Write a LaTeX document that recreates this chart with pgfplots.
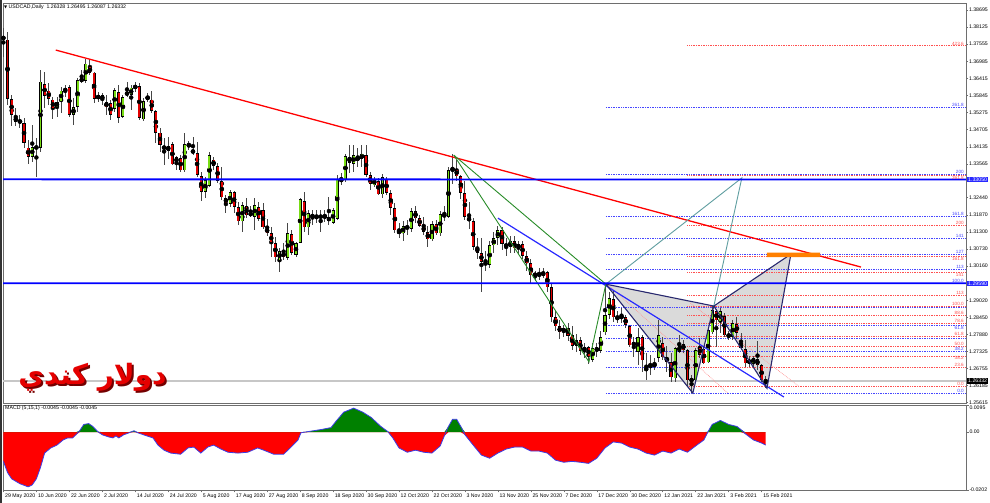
\documentclass[border=0pt]{standalone}
\usepackage{pgfplots}
\pgfplotsset{compat=1.18}
\usepackage{pgfplotstable}
\usepackage{fontspec}
\setmainfont{Liberation Sans}
\newfontfamily\arabicfont[Script=Arabic]{DejaVu Sans}
\newfontfamily\djv{DejaVu Sans}
\TeXXeTstate=1
\newcommand\mtfont{\fontsize{5.2}{6}\selectfont}
\definecolor{bull}{RGB}{120,220,20}
\definecolor{bear}{RGB}{225,0,0}
\definecolor{wick}{RGB}{70,70,70}
\definecolor{fibblue}{RGB}{70,70,255}
\definecolor{fibred}{RGB}{255,80,80}
\definecolor{hblue}{RGB}{40,40,255}
\definecolor{patedge}{RGB}{40,40,110}
\definecolor{patfill}{RGB}{218,218,218}
\definecolor{tealline}{RGB}{95,158,160}
\definecolor{gline}{RGB}{40,140,40}
\definecolor{macdgreen}{RGB}{0,128,0}
\definecolor{macdred}{RGB}{255,0,0}
\definecolor{macdline}{RGB}{60,60,230}
\definecolor{frame}{RGB}{110,110,110}

\pgfplotstableread{
i o h l c
0 1.3783 1.3810 1.3713 1.3770
1 1.3770 1.3796 1.3553 1.3573
2 1.3573 1.3586 1.3483 1.3520
3 1.3513 1.3543 1.3483 1.3496
4 1.3500 1.3520 1.3476 1.3496
5 1.3493 1.3510 1.3410 1.3426
6 1.3410 1.3436 1.3356 1.3380
7 1.3380 1.3486 1.3363 1.3413
8 1.3413 1.3443 1.3313 1.3410
9 1.3410 1.3670 1.3396 1.3630
10 1.3623 1.3663 1.3543 1.3583
11 1.3600 1.3626 1.3553 1.3573
12 1.3570 1.3580 1.3506 1.3540
13 1.3546 1.3580 1.3513 1.3563
14 1.3566 1.3613 1.3526 1.3600
15 1.3600 1.3620 1.3580 1.3606
16 1.3613 1.3620 1.3513 1.3520
17 1.3520 1.3576 1.3486 1.3546
18 1.3546 1.3643 1.3530 1.3636
19 1.3633 1.3670 1.3626 1.3640
20 1.3633 1.3706 1.3626 1.3690
21 1.3680 1.3706 1.3653 1.3660
22 1.3660 1.3663 1.3560 1.3573
23 1.3573 1.3596 1.3563 1.3586
24 1.3586 1.3593 1.3553 1.3570
25 1.3563 1.3586 1.3520 1.3546
26 1.3560 1.3570 1.3503 1.3520
27 1.3540 1.3610 1.3530 1.3603
28 1.3596 1.3620 1.3493 1.3510
29 1.3513 1.3586 1.3510 1.3580
30 1.3586 1.3630 1.3580 1.3596
31 1.3586 1.3620 1.3536 1.3610
32 1.3610 1.3630 1.3596 1.3616
33 1.3616 1.3626 1.3503 1.3510
34 1.3506 1.3576 1.3500 1.3566
35 1.3570 1.3593 1.3563 1.3583
36 1.3570 1.3600 1.3526 1.3533
37 1.3533 1.3536 1.3426 1.3460
38 1.3460 1.3476 1.3396 1.3420
39 1.3416 1.3443 1.3353 1.3406
40 1.3400 1.3446 1.3373 1.3416
41 1.3423 1.3430 1.3353 1.3356
42 1.3360 1.3383 1.3336 1.3380
43 1.3376 1.3386 1.3330 1.3336
44 1.3336 1.3460 1.3330 1.3423
45 1.3423 1.3433 1.3403 1.3416
46 1.3403 1.3446 1.3386 1.3393
47 1.3393 1.3430 1.3313 1.3320
48 1.3316 1.3330 1.3233 1.3263
49 1.3263 1.3313 1.3243 1.3303
50 1.3283 1.3396 1.3280 1.3386
51 1.3370 1.3380 1.3336 1.3350
52 1.3350 1.3360 1.3293 1.3300
53 1.3300 1.3346 1.3236 1.3246
54 1.3243 1.3253 1.3193 1.3226
55 1.3223 1.3270 1.3213 1.3263
56 1.3263 1.3266 1.3193 1.3213
57 1.3213 1.3230 1.3153 1.3166
58 1.3166 1.3230 1.3130 1.3220
59 1.3216 1.3243 1.3176 1.3186
60 1.3193 1.3216 1.3180 1.3186
61 1.3180 1.3243 1.3136 1.3220
62 1.3213 1.3230 1.3166 1.3173
63 1.3203 1.3226 1.3140 1.3146
64 1.3143 1.3173 1.3116 1.3126
65 1.3126 1.3146 1.3046 1.3093
66 1.3093 1.3113 1.3030 1.3046
67 1.3036 1.3076 1.2996 1.3066
68 1.3063 1.3093 1.3036 1.3046
69 1.3043 1.3160 1.3036 1.3126
70 1.3123 1.3136 1.3053 1.3060
71 1.3053 1.3096 1.3046 1.3093
72 1.3093 1.3243 1.3093 1.3240
73 1.3233 1.3263 1.3130 1.3146
74 1.3146 1.3203 1.3120 1.3193
75 1.3186 1.3203 1.3153 1.3180
76 1.3183 1.3203 1.3160 1.3176
77 1.3176 1.3203 1.3130 1.3186
78 1.3186 1.3203 1.3163 1.3176
79 1.3180 1.3246 1.3153 1.3166
80 1.3160 1.3210 1.3156 1.3203
81 1.3173 1.3320 1.3170 1.3306
82 1.3306 1.3326 1.3286 1.3300
83 1.3303 1.3390 1.3296 1.3383
84 1.3380 1.3420 1.3326 1.3360
85 1.3356 1.3420 1.3330 1.3386
86 1.3383 1.3410 1.3346 1.3366
87 1.3373 1.3420 1.3346 1.3390
88 1.3386 1.3420 1.3313 1.3320
89 1.3320 1.3330 1.3270 1.3290
90 1.3286 1.3313 1.3280 1.3306
91 1.3300 1.3310 1.3253 1.3256
92 1.3256 1.3323 1.3243 1.3313
93 1.3306 1.3313 1.3253 1.3260
94 1.3260 1.3270 1.3186 1.3210
95 1.3210 1.3225 1.3125 1.3135
96 1.3135 1.3160 1.3110 1.3125
97 1.3125 1.3165 1.3100 1.3150
98 1.3150 1.3170 1.3120 1.3140
99 1.3140 1.3210 1.3130 1.3200
100 1.3200 1.3215 1.3160 1.3175
101 1.3175 1.3185 1.3145 1.3150
102 1.3150 1.3180 1.3120 1.3130
103 1.3130 1.3150 1.3080 1.3105
104 1.3105 1.3165 1.3100 1.3155
105 1.3155 1.3170 1.3120 1.3125
106 1.3125 1.3200 1.3115 1.3190
107 1.3190 1.3215 1.3165 1.3180
108 1.3180 1.3345 1.3175 1.3335
109 1.3335 1.3390 1.3290 1.3340
110 1.3340 1.3370 1.3300 1.3315
111 1.3315 1.3320 1.3240 1.3260
112 1.3260 1.3300 1.3170 1.3180
113 1.3180 1.3230 1.3140 1.3165
114 1.3165 1.3175 1.3070 1.3080
115 1.3080 1.3110 1.3040 1.3060
116 1.3060 1.3110 1.2930 1.3030
117 1.3030 1.3065 1.3000 1.3020
118 1.3020 1.3100 1.3010 1.3085
119 1.3085 1.3130 1.3060 1.3110
120 1.3110 1.3150 1.3085 1.3135
121 1.3135 1.3145 1.3070 1.3090
122 1.3090 1.3110 1.3050 1.3080
123 1.3080 1.3115 1.3060 1.3100
124 1.3100 1.3115 1.3060 1.3075
125 1.3075 1.3100 1.3055 1.3090
126 1.3090 1.3100 1.3040 1.3050
127 1.3050 1.3065 1.3000 1.3025
128 1.3025 1.3040 1.2960 1.2985
129 1.2985 1.3000 1.2965 1.2990
130 1.2990 1.3010 1.2970 1.2985
131 1.2985 1.3010 1.2975 1.2995
132 1.2995 1.3000 1.2930 1.2945
133 1.2945 1.2960 1.2830 1.2845
134 1.2845 1.2870 1.2800 1.2815
135 1.2815 1.2835 1.2775 1.2795
136 1.2795 1.2820 1.2780 1.2810
137 1.2810 1.2825 1.2765 1.2785
138 1.2785 1.2815 1.2735 1.2750
139 1.2750 1.2790 1.2730 1.2770
140 1.2770 1.2780 1.2720 1.2735
141 1.2735 1.2760 1.2710 1.2745
142 1.2745 1.2750 1.2690 1.2715
143 1.2703 1.2760 1.2696 1.2743
144 1.2743 1.2760 1.2715 1.2735
145 1.2735 1.2800 1.2725 1.2780
146 1.2796 1.2953 1.2786 1.2853
147 1.2853 1.2930 1.2840 1.2910
148 1.2906 1.2936 1.2830 1.2846
149 1.2846 1.2866 1.2825 1.2840
150 1.2850 1.2876 1.2826 1.2843
151 1.2846 1.2853 1.2810 1.2820
152 1.2816 1.2820 1.2746 1.2753
153 1.2750 1.2780 1.2713 1.2763
154 1.2730 1.2810 1.2686 1.2780
155 1.2780 1.2786 1.2663 1.2703
156 1.2666 1.2726 1.2636 1.2680
157 1.2676 1.2720 1.2653 1.2690
158 1.2693 1.2710 1.2670 1.2680
159 1.2710 1.2836 1.2696 1.2786
160 1.2760 1.2780 1.2703 1.2713
161 1.2713 1.2750 1.2663 1.2696
162 1.2696 1.2726 1.2630 1.2646
163 1.2643 1.2746 1.2630 1.2743
164 1.2730 1.2786 1.2726 1.2750
165 1.2756 1.2770 1.2726 1.2736
166 1.2736 1.2740 1.2613 1.2636
167 1.2630 1.2653 1.2593 1.2643
168 1.2636 1.2743 1.2630 1.2736
169 1.2746 1.2776 1.2710 1.2720
170 1.2740 1.2746 1.2690 1.2693
171 1.2696 1.2810 1.2693 1.2803
172 1.2796 1.2883 1.2790 1.2870
173 1.2866 1.2873 1.2746 1.2836
174 1.2830 1.2876 1.2793 1.2866
175 1.2850 1.2860 1.2780 1.2786
176 1.2786 1.2800 1.2770 1.2783
177 1.2780 1.2836 1.2770 1.2826
178 1.2823 1.2846 1.2773 1.2793
179 1.2760 1.2793 1.2736 1.2743
180 1.2740 1.2770 1.2680 1.2693
181 1.2693 1.2716 1.2680 1.2703
182 1.2693 1.2716 1.2676 1.2710
183 1.2706 1.2766 1.2670 1.2686
184 1.2686 1.2690 1.2630 1.2636
185 1.26328 1.26495 1.26087 1.26332
}\candles

\pgfplotstableread{
i v
0 -0.0102
1 -0.0141
2 -0.0163
4 -0.0180
6 -0.0191
7 -0.0184
8 -0.0163
9 -0.0123
10 -0.0073
11.5 -0.0055
13 -0.0045
14.5 -0.0027
15.6 -0.0020
16.8 -0.0020
17.6 -0.0009
18.5 0.0005
19.5 0.0027
20.7 0.0030
21.7 0.0020
22.9 0.0002
24 -0.0009
25.4 -0.0016
26.6 -0.0020
27.3 -0.0013
28 -0.0020
29.2 -0.0009
30.5 -0.0002
31.7 0.0005
32.6 -0.0002
34 -0.0009
36.3 -0.0020
37.5 -0.0045
39 -0.0063
40.6 -0.0073
43 -0.0077
44.8 -0.0055
46.2 -0.0052
47.9 -0.0073
49.6 -0.0052
51 -0.0045
52.8 -0.0059
54.5 -0.0070
56.9 -0.0073
59.3 -0.0070
61.7 -0.0055
63.2 -0.0063
65.6 -0.0077
68 -0.0077
69.8 -0.0052
71.5 -0.0027
72.2 -0.0002
73.9 0.0002
77 0.0009
79.5 0.0016
80.7 0.0038
82.6 0.0070
85 0.0084
87.2 0.0070
89.2 0.0052
91.6 0.0020
93.3 0.0002
94.5 -0.0020
96 -0.0055
98 -0.0070
100 -0.0063
102 -0.0070
104 -0.0073
106 -0.0048
107 -0.0013
108 0.0020
109 0.0045
110 0.0045
111 0.0020
112 -0.0009
114 -0.0045
116 -0.0080
118 -0.0091
120 -0.0073
122 -0.0059
124 -0.0052
126 -0.0052
128 -0.0066
130 -0.0066
132 -0.0073
134 -0.0098
136 -0.0105
138 -0.0102
140 -0.0105
142 -0.0109
144 -0.0091
146 -0.0055
148 -0.0034
150 -0.0038
152 -0.0052
154 -0.0059
156 -0.0073
158 -0.0080
160 -0.0066
162 -0.0073
164 -0.0059
166 -0.0070
168 -0.0048
170 -0.0027
171 0.0002
172 0.0027
174 0.0041
176 0.0027
178 0.0020
179 0.0009
180 -0.0005
182 -0.0027
184 -0.0038
185 -0.0045
}\macd

\begin{document}
\begin{tikzpicture}
\path[use as bounding box, fill=white] (0pt,0pt) rectangle (990pt,503pt);
\draw[black!80, line width=1.5pt] (0.75pt,0pt) -- (0.75pt,503pt);

% ===== main price panel =====
\begin{axis}[
 at={(3pt,100pt)}, anchor=south west, scale only axis,
 width=963pt, height=400pt,
 xmin=-0.1, xmax=233.6, ymin=1.2560, ymax=1.38928,
 xtick=\empty,
 ytick={1.25615,1.26185,1.26755,1.27325,1.27880,1.28450,1.29020,1.30160,1.30730,1.31300,1.31870,1.32440,1.33565,1.34135,1.34705,1.35275,1.35845,1.36415,1.36985,1.37555,1.38125,1.38695},
 yticklabels={1.25615,1.26185,1.26755,1.27325,1.27880,1.28450,1.29020,1.30160,1.30730,1.31300,1.31870,1.32440,1.33565,1.34135,1.34705,1.35275,1.35845,1.36415,1.36985,1.37555,1.38125,1.38695},
 ytick pos=right, yticklabel pos=right,
 tick align=outside, major tick length=2pt,
 scaled y ticks=false,
 axis line style={draw=frame, line width=0.8pt},
 tick style={draw=frame, line width=0.5pt},
 yticklabel style={font=\mtfont, inner sep=0.8pt},
 clip mode=individual,
]
% bid line
\addplot[black!22, line width=1.5pt] coordinates {(-0.1,1.26332) (233.6,1.26332)};
% pattern fills
\addplot[fill=patfill, draw=none] coordinates {(146.2,1.2956) (167.3,1.2593) (172.4,1.2883) (146.2,1.2956)};
\addplot[fill=patfill, draw=none] coordinates {(172.4,1.2883) (185.3,1.2609) (191.1,1.3056) (172.4,1.2883)};
% blue fib levels (XA)
\addplot[fibblue, densely dotted, line width=0.7pt] coordinates {(146.2,1.2593) (233.6,1.2593)};
\addplot[fibblue, densely dotted, line width=0.7pt] coordinates {(146.2,1.2679) (233.6,1.2679)};
\addplot[fibblue, densely dotted, line width=0.7pt] coordinates {(146.2,1.2732) (233.6,1.2732)};
\addplot[fibblue, densely dotted, line width=0.7pt] coordinates {(146.2,1.2775) (233.6,1.2775)};
\addplot[fibblue, densely dotted, line width=0.7pt] coordinates {(146.2,1.2818) (233.6,1.2818)};
\addplot[fibblue, densely dotted, line width=0.7pt] coordinates {(146.2,1.2879) (233.6,1.2879)};
\addplot[fibblue, densely dotted, line width=0.7pt] coordinates {(146.2,1.3004) (233.6,1.3004)};
\addplot[fibblue, densely dotted, line width=0.7pt] coordinates {(146.2,1.3056) (233.6,1.3056)};
\addplot[fibblue, densely dotted, line width=0.7pt] coordinates {(146.2,1.3108) (233.6,1.3108)};
\addplot[fibblue, densely dotted, line width=0.7pt] coordinates {(146.2,1.3182) (233.6,1.3182)};
\addplot[fibblue, densely dotted, line width=0.7pt] coordinates {(146.2,1.3321) (233.6,1.3321)};
\addplot[fibblue, densely dotted, line width=0.7pt] coordinates {(146.2,1.3546) (233.6,1.3546)};
% red fib levels (BC)
\addplot[fibred, densely dotted, line width=0.7pt] coordinates {(166,1.2615) (233.6,1.2615)};
\addplot[fibred, densely dotted, line width=0.7pt] coordinates {(166,1.2678) (233.6,1.2678)};
\addplot[fibred, densely dotted, line width=0.7pt] coordinates {(166,1.2717) (233.6,1.2717)};
\addplot[fibred, densely dotted, line width=0.7pt] coordinates {(166,1.2749) (233.6,1.2749)};
\addplot[fibred, densely dotted, line width=0.7pt] coordinates {(166,1.2781) (233.6,1.2781)};
\addplot[fibred, densely dotted, line width=0.7pt] coordinates {(166,1.2826) (233.6,1.2826)};
\addplot[fibred, densely dotted, line width=0.7pt] coordinates {(166,1.2852) (233.6,1.2852)};
\addplot[fibred, densely dotted, line width=0.7pt] coordinates {(166,1.2883) (233.6,1.2883)};
\addplot[fibred, densely dotted, line width=0.7pt] coordinates {(166,1.2918) (233.6,1.2918)};
\addplot[fibred, densely dotted, line width=0.7pt] coordinates {(166,1.2994) (233.6,1.2994)};
\addplot[fibred, densely dotted, line width=0.7pt] coordinates {(166,1.3049) (233.6,1.3049)};
\addplot[fibred, densely dotted, line width=0.7pt] coordinates {(166,1.3151) (233.6,1.3151)};
\addplot[fibred, densely dotted, line width=0.7pt] coordinates {(166,1.3317) (233.6,1.3317)};
\addplot[fibred, densely dotted, line width=0.7pt] coordinates {(166,1.3750) (233.6,1.3750)};
% red diagonal dotted guides
\addplot[fibred!60, densely dotted, line width=0.7pt] coordinates {(146.2,1.2960) (175.8,1.2593)};
\addplot[fibred!60, densely dotted, line width=0.7pt] coordinates {(166.7,1.2893) (193.0,1.2616)};

% candles: wicks
\addplot[only marks, mark=none, error bars/.cd, y dir=both, y explicit, error mark=none,
  error bar style={draw=wick, line width=0.9pt}]
  table[x=i, y expr={(\thisrow{h}+\thisrow{l})/2}, y error expr={(\thisrow{h}-\thisrow{l})/2}] {\candles};
% bodies outline
\addplot[only marks, mark=none, error bars/.cd, y dir=both, y explicit, error mark=none,
  error bar style={draw=black, line width=3.1pt}]
  table[x=i, y expr={(\thisrow{o}+\thisrow{c})/2}, y error expr={max(abs(\thisrow{o}-\thisrow{c})/2,0.00012)}] {\candles};
% bull bodies
\addplot[only marks, mark=none, restrict expr to domain={\thisrow{c}-\thisrow{o}}{0.00001:1},
  error bars/.cd, y dir=both, y explicit, error mark=none,
  error bar style={draw=bull, line width=1.9pt}]
  table[x=i, y expr={(\thisrow{o}+\thisrow{c})/2}, y error expr={max(abs(\thisrow{o}-\thisrow{c})/2-0.0002,0)}] {\candles};
% bear bodies
\addplot[only marks, mark=none, restrict expr to domain={\thisrow{o}-\thisrow{c}}{0.00001:1},
  error bars/.cd, y dir=both, y explicit, error mark=none,
  error bar style={draw=bear, line width=1.9pt}]
  table[x=i, y expr={(\thisrow{o}+\thisrow{c})/2}, y error expr={max(abs(\thisrow{o}-\thisrow{c})/2-0.0002,0)}] {\candles};

% trend lines
\addplot[red, line width=1.3pt] coordinates {(12.7,1.3736) (208.1,1.3013)};
\addplot[hblue, line width=1.2pt] coordinates {(120,1.3176) (189.4,1.2580)};
% green triangle from the October top
\addplot[gline, line width=0.9pt] coordinates {(109.3,1.3386) (146.2,1.2956)};
\addplot[gline, line width=0.9pt] coordinates {(109.3,1.3386) (142.1,1.2697) (146.2,1.2956)};
% teal projection
\addplot[tealline, line width=0.9pt] coordinates {(146.2,1.2956) (179.2,1.3310) (172.4,1.2883)};
% harmonic pattern edges
\addplot[patedge, line width=1.1pt] coordinates {(146.2,1.2956) (167.3,1.2593) (172.4,1.2883) (146.2,1.2956)};
\addplot[patedge, line width=1.1pt] coordinates {(172.4,1.2883) (185.3,1.2609) (191.1,1.3056) (172.4,1.2883)};
% orange target box
\addplot[fill=orange, draw=none] coordinates {(185.3,1.3046) (198.2,1.3046) (198.2,1.3061) (185.3,1.3061) (185.3,1.3046)};
% horizontal blue levels (drawn over everything)
\addplot[draw=blue, line width=1.8pt] coordinates {(-0.1,1.33052) (116,1.33050) (233.6,1.33048)};
\addplot[draw=blue, line width=1.8pt] coordinates {(-0.1,1.29592) (116,1.29590) (233.6,1.29588)};

% fib labels
\begin{scope}[every node/.style={font=\fontsize{4.6}{5}\selectfont, inner sep=0.5pt, anchor=south east}]
\node[text=fibblue] at (axis cs:233.2,1.2593) {0.0};
\node[text=fibblue] at (axis cs:233.2,1.2732) {38.2};
\node[text=fibblue, anchor=north east] at (axis cs:233.2,1.2818) {61.8};
\node[text=fibblue] at (axis cs:233.2,1.2959) {100.0};
\node[text=fibblue] at (axis cs:233.2,1.3004) {113};
\node[text=fibblue] at (axis cs:233.2,1.3056) {127};
\node[text=fibblue] at (axis cs:233.2,1.3108) {141};
\node[text=fibblue] at (axis cs:233.2,1.3182) {161.8};
\node[text=fibblue] at (axis cs:233.2,1.3321) {200};
\node[text=fibblue] at (axis cs:233.2,1.3546) {261.8};
\node[text=fibred] at (axis cs:233.2,1.2615) {0.0};
\node[text=fibred] at (axis cs:233.2,1.2678) {23.6};
\node[text=fibred, anchor=north east] at (axis cs:233.2,1.2717) {38.2};
\node[text=fibred] at (axis cs:233.2,1.2749) {50.0};
\node[text=fibred] at (axis cs:233.2,1.2781) {61.8};
\node[text=fibred] at (axis cs:233.2,1.2826) {78.6};
\node[text=fibred] at (axis cs:233.2,1.2852) {88.6};
\node[text=fibred] at (axis cs:233.2,1.2883) {100.0};
\node[text=fibred] at (axis cs:233.2,1.2918) {113};
\node[text=fibred, anchor=north east] at (axis cs:233.2,1.2994) {141};
\node[text=fibred, anchor=north east] at (axis cs:233.2,1.3049) {161.8};
\node[text=fibred] at (axis cs:233.2,1.3151) {200};
\node[text=fibred, anchor=north east] at (axis cs:233.2,1.3317) {261.8};
\node[text=fibred] at (axis cs:233.2,1.3750) {423.6};
\end{scope}
% price boxes on the scale
\node[anchor=west, fill=hblue, text=white, font=\mtfont, inner sep=0.8pt] at (axis cs:233.9,1.3305) {1.33050};
\node[anchor=west, fill=hblue, text=white, font=\mtfont, inner sep=0.8pt] at (axis cs:233.9,1.2959) {1.29590};
\node[anchor=west, fill=black, text=white, font=\mtfont, inner sep=0.8pt] at (axis cs:233.9,1.26332) {1.26332};
\end{axis}

% ===== MACD panel =====
\begin{axis}[
 at={(3pt,13pt)}, anchor=south west, scale only axis,
 width=963pt, height=85pt,
 xmin=-0.1, xmax=233.6, ymin=-0.0202, ymax=0.0095,
 xtick={0,8,...,184},
 xticklabels={29 May 2020,10 Jun 2020,22 Jun 2020,2 Jul 2020,14 Jul 2020,24 Jul 2020,5 Aug 2020,17 Aug 2020,27 Aug 2020,8 Sep 2020,18 Sep 2020,30 Sep 2020,12 Oct 2020,22 Oct 2020,3 Nov 2020,13 Nov 2020,25 Nov 2020,7 Dec 2020,17 Dec 2020,30 Dec 2020,12 Jan 2021,22 Jan 2021,3 Feb 2021,15 Feb 2021},
 xtick pos=bottom,
 ytick={-0.0202,0}, yticklabels={-0.0202,0.00},
 extra y ticks={0.0095}, extra y tick labels={0.0095},
 extra y tick style={yticklabel style={anchor=north west, yshift=0.5pt}},
 ytick pos=right, yticklabel pos=right,
 tick align=outside, major tick length=2.5pt,
 scaled y ticks=false, scaled x ticks=false,
 axis line style={draw=frame, line width=0.8pt},
 tick style={draw=frame, line width=0.5pt},
 yticklabel style={font=\mtfont, inner sep=0.8pt},
 xticklabel style={font=\mtfont, anchor=north west, inner sep=1pt, xshift=0.5pt},
 clip mode=individual,
]
\addplot[fill=macdred, draw=none] table[x=i, y expr={min(\thisrow{v},0)}] {\macd} \closedcycle;
\addplot[fill=macdgreen, draw=none] table[x=i, y expr={max(\thisrow{v},0)}] {\macd} \closedcycle;
\addplot[macdline, line width=0.8pt] table[x=i, y=v] {\macd};
\end{axis}

% titles
\node[anchor=west, font=\mtfont, inner sep=0pt] at (4pt,496pt) {{\djv\fontsize{4}{5}\selectfont ▼}\ USDCAD,Daily\ \ 1.26328 1.26495 1.26087 1.26332};
\node[anchor=west, font=\mtfont, inner sep=0pt] at (5pt,95pt) {MACD (5,15,1) -0.0045 -0.0045 -0.0045};
% Arabic caption
\node[text=red!45!black] at (94.5pt,124pt) {\arabicfont\bfseries\fontsize{28}{32}\selectfont\beginR دولار كندي\endR};
\node[text=red!90!black] at (92.5pt,126pt) {\arabicfont\bfseries\fontsize{28}{32}\selectfont\beginR دولار كندي\endR};
\end{tikzpicture}
\end{document}
